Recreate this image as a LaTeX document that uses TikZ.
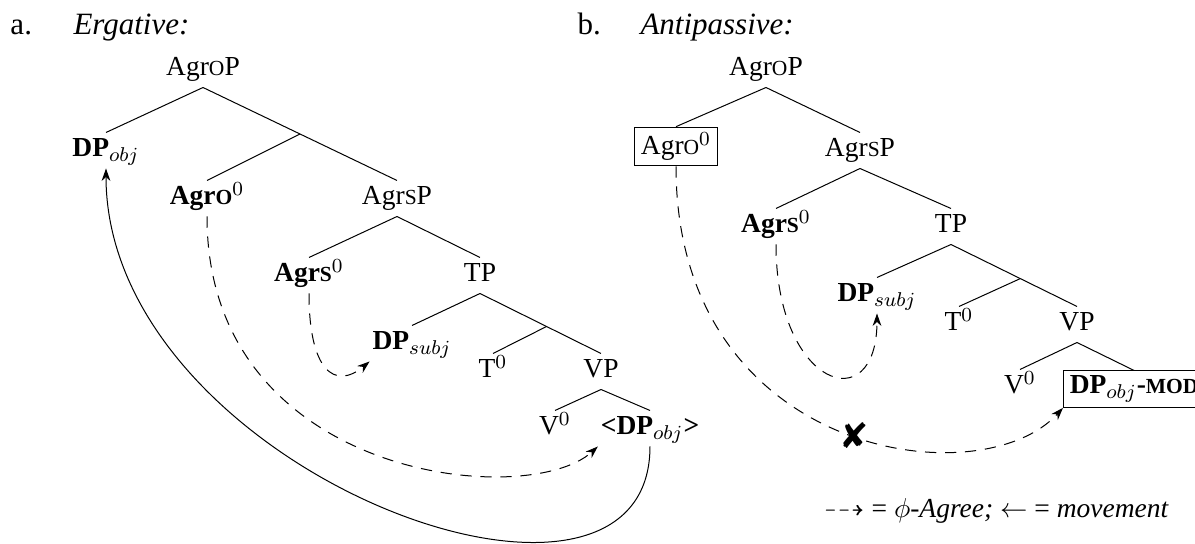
\documentclass[tikz,border=0pt]{standalone}
\usepackage{amssymb}
\usepackage{fontspec}
\setmainfont{Liberation Serif}
\newfontfamily\symbfont{DejaVu Sans}
\usetikzlibrary{arrows.meta,calc}

% fake small caps
\newcommand\smc[1]{{\fontsize{8.6}{10}\selectfont #1}}

\tikzset{
  cat/.style={inner sep=1pt, text height=8.6pt, text depth=3.4pt, anchor=base},
  boxed/.style={draw, inner xsep=2.5pt, inner ysep=2pt, anchor=base},
  hdr/.style={anchor=base west, inner sep=0pt, font=\fontsize{12.4}{14}\selectfont},
  agree/.style={-{Stealth[length=5pt,width=3.5pt]}, dash pattern=on 4.5pt off 3.5pt},
  move/.style={-{Stealth[length=5pt,width=3.5pt]}},
}

\begin{document}
\begin{tikzpicture}[x=0.4pt,y=-0.4pt,font=\fontsize{11}{13}\selectfont]
\useasboundingbox (0,0) rectangle (1195,544);

% a. ergative
\node[hdr] (numa) at (10,35) {a.};
\node[hdr] (titlea) at (73,35) {\textit{Ergative:}};
\node[cat] (agropa) at (203,76) {Agr\smc{O}P};
\node[cat] (dpobja) at (106,157) {\textbf{DP}$_{obj}$};
\node[cat] (agroa) at (207,205) {\textbf{Agr\smc{O}}$^0$};
\node[cat] (agrspa) at (397,205) {Agr\smc{S}P};
\node[cat] (agrsa) at (309,282) {\textbf{Agr\smc{S}}$^0$};
\node[cat] (tpa) at (480,282) {TP};
\node[cat] (dpsubja) at (412,350) {\textbf{DP}$_{subj}$};
\node[cat] (ta) at (493,378) {T$^0$};
\node[cat] (vpa) at (601,378) {VP};
\node[cat] (va) at (555,435) {V$^0$};
\node[cat] (lowobja) at (650,435) {\textbf{<DP}$_{obj}$\textbf{>}};

\draw (agropa.south) -- (dpobja.north);
\draw (agropa.south) -- coordinate[pos=0.5] (barOa) (agrspa.north);
\draw (barOa) -- (agroa.north);
\draw (agrspa.south) -- (agrsa.north);
\draw (agrspa.south) -- (tpa.north);
\draw (tpa.south) -- (dpsubja.north);
\draw (tpa.south) -- coordinate[pos=0.55] (barTa) (vpa.north);
\draw (barTa) -- (ta.north);
\draw (vpa.south) -- (va.north);
\draw (vpa.south) -- (lowobja.north);

\draw[move] (lowobja.south) .. controls +(0,224) and +(0,302) .. (dpobja.south);
\draw[agree] (agroa.south) .. controls +(0,263) and +(-70,64) .. (lowobja.south west);
\draw[agree] (agrsa.south) .. controls +(0,77) and +(-35,29) .. (dpsubja.south west);

% b. antipassive
\node[hdr] (numb) at (577,35) {b.};
\node[hdr] (titleb) at (640,35) {\textit{Antipassive:}};
\node[cat] (agropb) at (766,76) {Agr\smc{O}P};
\node[boxed] (agrob) at (676,155) {Agr\smc{O}$^0$};
\node[cat] (agrspb) at (860,157) {Agr\smc{S}P};
\node[cat] (agrsb) at (776,233) {\textbf{Agr\smc{S}}$^0$};
\node[cat] (tpb) at (951,233) {TP};
\node[cat] (dpsubjb) at (877,302) {\textbf{DP}$_{subj}$};
\node[cat] (tb) at (959,331) {T$^0$};
\node[cat] (vpb) at (1077,331) {VP};
\node[cat] (vb) at (1020,394) {V$^0$};
\node[boxed,anchor=base west] (dpmodb) at (1063,394) {\textbf{DP}$_{obj}$\textbf{-\smc{MOD}}};

\draw (agropb.south) -- (agrob.north);
\draw (agropb.south) -- (agrspb.north);
\draw (agrspb.south) -- (agrsb.north);
\draw (agrspb.south) -- (tpb.north);
\draw (tpb.south) -- (dpsubjb.north);
\draw (tpb.south) -- coordinate[pos=0.55] (barTb) (vpb.north);
\draw (barTb) -- (tb.north);
\draw (vpb.south) -- (vb.north);
\draw (vpb.south) -- (dpmodb.north);

\draw[agree] (agrob.south) .. controls +(0,290) and +(-83,91) .. (dpmodb.south west)
  node[pos=0.53,font=\symbfont\fontsize{14}{14}\selectfont] (blocked) {✘};
\draw[agree] (agrsb.south) .. controls +(0,143) and +(0,107) .. (dpsubjb.south);

\node[anchor=base west, inner sep=0pt] (legend) at (823,518) {$\dashrightarrow$ = $\phi$-\textit{Agree;} $\leftarrow$ = \textit{movement}};
\end{tikzpicture}
\end{document}
